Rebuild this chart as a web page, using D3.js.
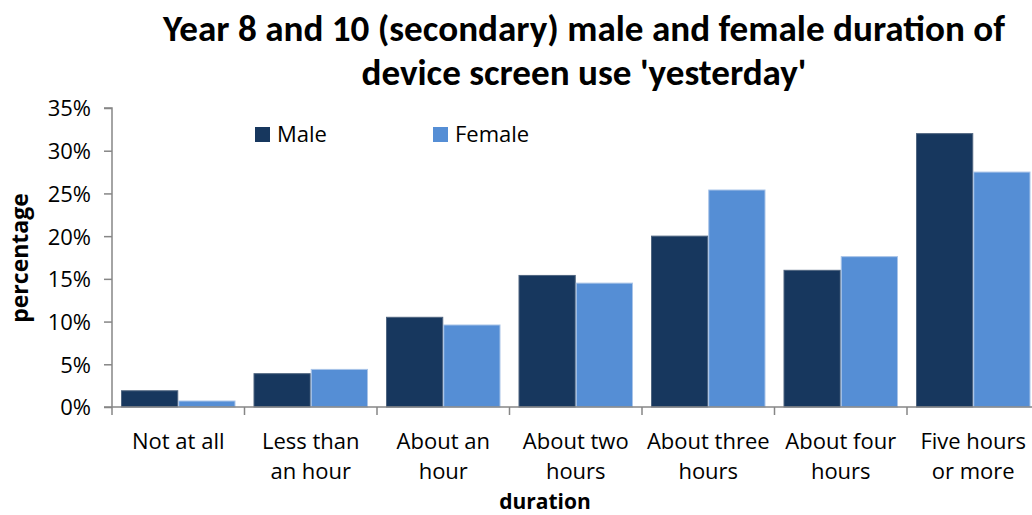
<!DOCTYPE html>
<html>
<head>
<meta charset="utf-8">
<script src="https://cdn.jsdelivr.net/npm/d3@7"></script>
<style>
  html, body { margin: 0; padding: 0; background: #fff; }
  svg { display: block; }
  text { font-family: "Open Sans", "Noto Sans", sans-serif; fill: #000; }
  text.title { font-family: "Carlito", "Lato", sans-serif; }
</style>
</head>
<body>
<svg id="chart" width="1032" height="515"></svg>
<script>
// ---- data ----
const categories = ["Not at all", "Less than an hour", "About an hour", "About two hours", "About three hours", "About four hours", "Five hours or more"];
const tickLabelLines = [["Not at all"], ["Less than", "an hour"], ["About an", "hour"], ["About two", "hours"], ["About three", "hours"], ["About four", "hours"], ["Five hours", "or more"]];
const seriesNames = ["Male", "Female"];
const maleValues = [1.9, 3.9, 10.5, 15.4, 20.0, 16.0, 32.0];
const femaleValues = [0.7, 4.4, 9.6, 14.5, 25.4, 17.6, 27.5];
const yTicks = [0, 5, 10, 15, 20, 25, 30, 35];
const titleLines = ["Year 8 and 10 (secondary) male and female duration of", "device screen use 'yesterday'"];
const yAxisTitle = "percentage";
const xAxisTitle = "duration";
const colors = { Male: "#17375e", Female: "#558ed5" };
const strokes = { Male: "#4f6580", Female: "#a9c4e8" };

const svg = d3.select("#chart");
const plotLeft = 112, plotRight = 112 + 7 * 132.5, plotTop = 108, plotBottom = 407;

const x0 = d3.scaleBand().domain(categories).range([plotLeft, plotRight]).padding(0);
const x1 = d3.scaleBand().domain(seriesNames).range([9, x0.bandwidth() - 9]).padding(0);
const y = d3.scaleLinear().domain([0, 35]).range([plotBottom, plotTop]);

const data = categories.map((c, i) => ({ cat: c, values: [{ s: "Male", v: maleValues[i] }, { s: "Female", v: femaleValues[i] }] }));

// bars
const g = svg.append("g");
g.selectAll("g.cat").data(data).join("g")
  .attr("transform", d => `translate(${x0(d.cat)},0)`)
  .selectAll("rect").data(d => d.values).join("rect")
  .attr("x", d => x1(d.s) + 0.5)
  .attr("y", d => y(d.v))
  .attr("width", x1.bandwidth() - 1)
  .attr("height", d => plotBottom - y(d.v))
  .attr("fill", d => colors[d.s])
  .attr("stroke", d => strokes[d.s])
  .attr("stroke-width", 1);

// y axis
const yAxis = d3.axisLeft(y).tickValues(yTicks).tickSize(8).tickFormat(d => d + "%");
const ya = svg.append("g").attr("transform", `translate(${plotLeft},0)`).call(yAxis);
ya.attr("font-family", null).attr("font-size", null);
ya.select(".domain").attr("stroke", "#868686").attr("stroke-width", 1.5).attr("d", `M-8,${plotTop}H0V${plotBottom}`);
ya.selectAll(".tick line").attr("stroke", "#868686").attr("stroke-width", 1.5);
ya.selectAll(".tick text").attr("x", -21).attr("dy", "0.36em").style("font-size", "22px").attr("fill", "#000");

// x axis
const xa = svg.append("g").attr("transform", `translate(0,${plotBottom})`);
xa.append("line").attr("x1", plotLeft - 8).attr("x2", 1032).attr("y1", 0).attr("y2", 0).attr("stroke", "#868686").attr("stroke-width", 1.5);
const boundaries = categories.map(c => x0(c));
xa.selectAll("line.tk").data(boundaries).join("line").attr("class", "tk")
  .attr("x1", d => d).attr("x2", d => d).attr("y1", 0).attr("y2", 8)
  .attr("stroke", "#868686").attr("stroke-width", 1.5);

const lbl = svg.append("g");
lbl.selectAll("text").data(categories).join("text")
  .attr("text-anchor", "middle")
  .style("font-size", "22px")
  .each(function (c, i) {
    const t = d3.select(this);
    tickLabelLines[i].forEach((line, j) => {
      t.append("tspan").attr("x", x0(c) + x0.bandwidth() / 2).attr("y", 449 + j * 30).text(line);
    });
  });

// axis titles
svg.append("text").attr("x", 545).attr("y", 509).attr("text-anchor", "middle")
  .style("font-size", "21px").style("font-weight", "bold").text(xAxisTitle);
svg.append("text").attr("transform", "translate(28,258) rotate(-90)").attr("text-anchor", "middle")
  .style("font-size", "23px").style("font-weight", "bold").text(yAxisTitle);

// title
const t1 = svg.append("text").attr("class", "title").attr("x", 584).attr("y", 41).attr("text-anchor", "middle")
  .style("font-size", "36px").style("font-weight", "bold").text(titleLines[0]);
const t2 = svg.append("text").attr("class", "title").attr("x", 584).attr("y", 85).attr("text-anchor", "middle")
  .style("font-size", "36px").style("font-weight", "bold").text(titleLines[1]);
const n1 = t1.node().getComputedTextLength();
const n2 = t2.node().getComputedTextLength();
const ratio = 842 / n1;
t1.attr("textLength", 842).attr("lengthAdjust", "spacingAndGlyphs");
t2.attr("textLength", n2 * ratio).attr("lengthAdjust", "spacingAndGlyphs");

// legend
const legendX = [255, 433];
const lg = svg.append("g");
seriesNames.forEach((s, i) => {
  lg.append("rect").attr("x", legendX[i]).attr("y", 127).attr("width", 15).attr("height", 15).attr("fill", colors[s]);
  lg.append("text").attr("x", legendX[i] + 22).attr("y", 142).style("font-size", "22px").text(s);
});
</script>
</body>
</html>
